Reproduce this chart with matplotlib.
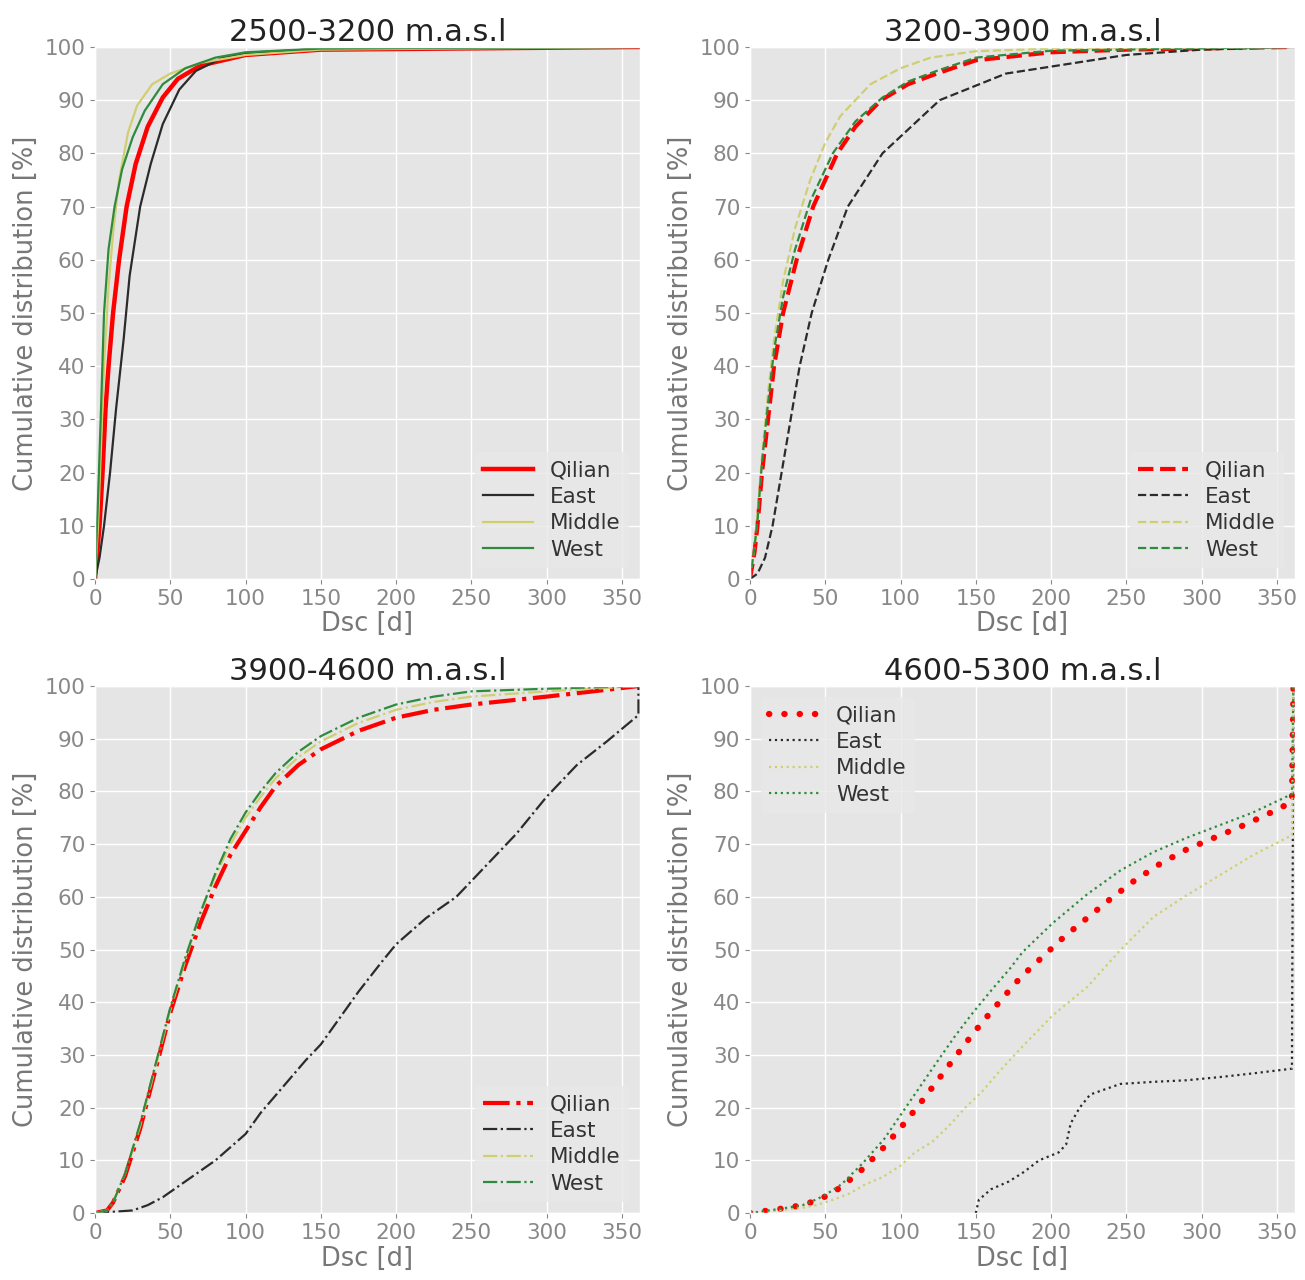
import numpy as np
import matplotlib.pyplot as plt

plt.style.use('ggplot')

# Cumulative distribution of snow cover duration (days, %) per elevation band
p1_qilian = [(0, 0), (3, 10), (5, 20), (7, 32), (9, 40), (12, 50), (16, 60), (21, 70), (27, 78),
             (35, 85), (45, 90.5), (55, 94), (70, 96.5), (100, 98.5), (150, 99.5), (361, 100)]
p1_east = [(0, 0), (3, 4), (6, 10), (10, 20), (14, 32), (19, 45), (23, 57), (30, 70), (37, 78),
           (45, 85.5), (56, 92), (67, 95.5), (85, 98), (107, 99), (150, 99.6), (361, 100)]
p1_middle = [(0, 0), (2, 10), (4, 25), (6, 40), (9, 55), (12, 65), (16, 75), (22, 84), (28, 89),
             (38, 93), (50, 95), (70, 97), (100, 98.5), (150, 99.5), (361, 100)]
p1_west = [(0, 0), (2, 15), (4, 32), (6, 50), (9, 62), (13, 70), (18, 77), (25, 83), (33, 88),
           (45, 93), (60, 96), (80, 98), (100, 99), (150, 99.7), (361, 100)]

p2_qilian = [(0, 0), (3, 5), (5, 10), (8, 20), (12, 30), (16, 40), (22, 50), (31, 60), (42, 70),
             (58, 80), (70, 85), (87, 90), (105, 93), (124, 95), (150, 97.5), (200, 99), (250, 99.5),
             (361, 100)]
p2_east = [(0, 0), (5, 1), (10, 4), (15, 10), (21, 20), (27, 30), (33, 40), (41, 50), (52, 60),
           (65, 70), (88, 80), (126, 90), (170, 95), (250, 98.5), (300, 99.5), (361, 100)]
p2_middle = [(0, 0), (3, 6), (5, 12), (8, 23), (12, 35), (16, 45), (22, 56), (30, 66), (40, 75),
             (50, 82), (60, 87), (70, 90), (80, 93), (100, 96), (120, 98), (150, 99.2), (200, 99.7),
             (361, 100)]
p2_west = [(0, 0), (3, 6), (5, 11), (8, 22), (12, 33), (16, 43), (22, 53), (30, 62), (40, 71),
           (55, 80), (70, 86), (88, 90.5), (105, 93.5), (124, 95.5), (150, 98), (200, 99.3),
           (361, 100)]

p3_qilian = [(0, 0), (8, 0.5), (12, 2), (20, 7), (30, 16), (40, 27), (50, 38), (60, 47), (70, 55),
             (80, 62), (90, 68), (100, 72.5), (110, 77), (120, 81), (135, 85), (150, 88), (175, 91.5),
             (200, 94), (225, 95.5), (250, 96.5), (300, 98), (340, 99.3), (361, 100)]
p3_east = [(0, 0), (25, 0.5), (35, 1.5), (45, 3), (55, 5), (65, 7), (80, 10), (100, 15), (110, 19),
           (125, 24), (140, 29), (150, 32), (165, 38), (175, 42), (190, 47.5), (200, 51), (220, 56),
           (240, 60), (260, 66), (280, 72), (300, 79), (320, 85), (340, 89.5), (361, 94.5),
           (361, 100)]
p3_middle = [(0, 0), (8, 0.5), (12, 2), (20, 7.5), (30, 16.5), (40, 27.5), (50, 38.5), (60, 48),
             (70, 57), (80, 64), (90, 70), (100, 75), (110, 79), (120, 82.5), (135, 86.5), (150, 89.5),
             (175, 93), (200, 95.5), (225, 97), (250, 98), (300, 99), (361, 100)]
p3_west = [(0, 0), (8, 0.5), (12, 2), (20, 7.5), (30, 17), (40, 28), (50, 39), (60, 48.5), (70, 57),
           (80, 64.5), (90, 71), (100, 76), (110, 80), (120, 83.5), (135, 87.5), (150, 90.5),
           (175, 94), (200, 96.5), (225, 98), (250, 99), (300, 99.5), (361, 100)]

p4_qilian = [(0, 0), (20, 0.8), (35, 1.5), (45, 2.5), (52, 3.4), (61, 5), (75, 8.4), (89, 12.5),
             (101, 16.5), (113, 20.8), (125, 25.3), (136, 29.5), (148, 34), (161, 38.5), (173, 42.5),
             (180, 44.8), (195, 48.8), (209, 52.5), (224, 56), (239, 59.5), (255, 63),
             (272, 66.2), (290, 69), (309, 71.3), (328, 73.6), (346, 76), (360, 78), (361, 100)]
p4_east = [(150, 0), (152, 2.5), (160, 4.5), (172, 6), (182, 7.8), (192, 10), (205, 11.5), (210, 13),
           (213, 17), (219, 20), (226, 22.5), (237, 23.6), (246, 24.5), (268, 24.9), (290, 25.2),
           (312, 25.8), (334, 26.5), (360, 27.4), (361, 100)]
p4_middle = [(0, 0), (20, 0.5), (35, 1), (44, 1.5), (55, 2.5), (66, 3.7), (77, 5.5), (88, 6.8),
             (100, 9), (110, 11.6), (121, 13.5), (132, 16.5), (143, 20), (154, 23), (166, 27),
             (179, 31), (201, 37.5), (224, 42.9), (246, 49.9), (268, 56.2), (290, 60.3), (312, 64.1),
             (334, 67.9), (360, 71.7), (361, 100)]
p4_west = [(0, 0), (20, 0.8), (35, 1.5), (45, 2.7), (52, 3.8), (61, 5.5), (75, 9.5), (89, 14),
           (101, 19), (113, 24), (125, 29), (136, 33.5), (148, 38), (161, 42.5), (173, 46.5),
           (181, 49.5), (201, 55), (224, 60.5), (246, 65), (268, 68.5), (290, 71.2), (312, 73.6),
           (334, 76), (360, 79.5), (361, 100)]

titles = ['2500-3200 m.a.s.l', '3200-3900 m.a.s.l', '3900-4600 m.a.s.l', '4600-5300 m.a.s.l']
regions = ['Qilian', 'East', 'Middle', 'West']
panels = [
    [p1_qilian, p1_east, p1_middle, p1_west],
    [p2_qilian, p2_east, p2_middle, p2_west],
    [p3_qilian, p3_east, p3_middle, p3_west],
    [p4_qilian, p4_east, p4_middle, p4_west],
]

colors = ['#ff0000', '#2b2b2b', '#cfcf70', '#2e8b3e']
linestyles = ['-', '--', '-.', ':']
qilian_lw = [3.2, 3.0, 3.0, 4.5]
legend_loc = ['lower right', 'lower right', 'lower right', 'upper left']

# axes boxes in figure fraction: left, bottom, width, height
boxes = [
    [0.0728, 0.5477, 0.4176, 0.4156],
    [0.5747, 0.5477, 0.4176, 0.4156],
    [0.0728, 0.0523, 0.4176, 0.4117],
    [0.5747, 0.0523, 0.4176, 0.4117],
]

fig = plt.figure(figsize=(13.05, 12.8), dpi=100)

for k in range(4):
    ax = fig.add_axes(boxes[k])
    ls = linestyles[k]
    for i, series in enumerate(panels[k]):
        d = np.array(series, dtype=float)
        lw = qilian_lw[k] if i == 0 else 1.6
        if k == 3 and i == 0:
            # big round dots for the Qilian curve
            ax.plot(d[:, 0], d[:, 1], color=colors[i], linestyle=(0, (0.05, 2.4)),
                    linewidth=lw, dash_capstyle='round', label=regions[i])
        else:
            ax.plot(d[:, 0], d[:, 1], color=colors[i], linestyle=ls, linewidth=lw,
                    label=regions[i])

    ax.set_xlim(0, 362)
    ax.set_ylim(0, 100)
    ax.set_xticks(np.arange(0, 351, 50))
    ax.set_yticks(np.arange(0, 101, 10))
    ax.tick_params(labelsize=15.5, colors='#888888', labelcolor='#888888')
    ax.set_xlabel('Dsc [d]', fontsize=18.5, color='#777777', labelpad=2)
    ax.set_ylabel('Cumulative distribution [%]', fontsize=18.5, color='#777777', labelpad=4)
    ax.set_title(titles[k], fontsize=22, color='#222222', pad=4)
    ax.grid(True, color='white', linewidth=1.0)
    leg = ax.legend(loc=legend_loc[k], fontsize=15.5, handlelength=2.3, labelspacing=0.3,
                    facecolor='#e8e8e8', edgecolor='none', framealpha=0.8)
    for t in leg.get_texts():
        t.set_color('#333333')

fig.savefig('out.png', dpi=100)
